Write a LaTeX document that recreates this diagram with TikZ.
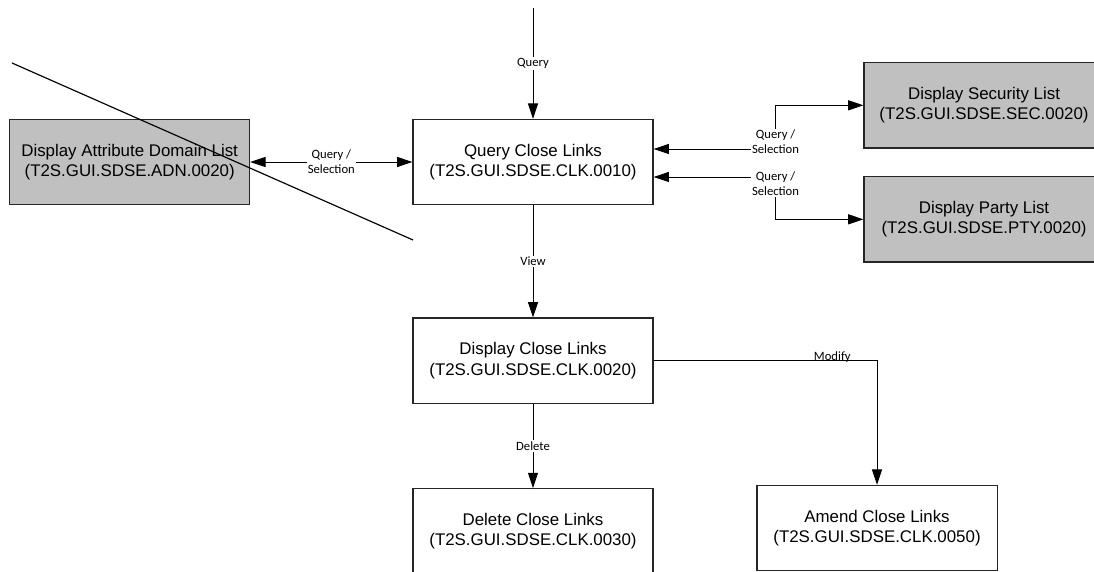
\documentclass[tikz,border=0pt]{standalone}
\usepackage{fontspec}
\setmainfont{Liberation Sans}
\newfontfamily\flowfont{Carlito}
\usepackage{tikz}
\usetikzlibrary{arrows.meta, positioning}
\definecolor{listgray}{RGB}{192,192,192}
\tikzstyle{screen} = [rectangle, minimum width=7.2cm, minimum height=2.56cm, text centered, align=center, draw=black!85, line width=0.9pt, fill=white, font=\fontsize{14.4}{17.5}\selectfont]
\tikzstyle{listscreen} = [screen, fill=listgray]
\tikzstyle{arrow} = [line width=0.8pt, -{Triangle[length=4.6mm,width=3mm]}]
\tikzstyle{twoway} = [line width=0.8pt, {Triangle[length=4.6mm,width=3mm]}-{Triangle[length=4.6mm,width=3mm]}]
\tikzstyle{flow} = [fill=white, inner sep=1pt, align=center, font=\flowfont\fontsize{10.8}{12.8}\selectfont]

\begin{document}
\begin{tikzpicture}[x=0.03cm, y=-0.03cm, node distance=3cm]
\useasboundingbox (0,0) rectangle (1094,572);
\node (qcl) [screen] at (533,162) {Query Close Links\\(T2S.GUI.SDSE.CLK.0010)};
\node (adn) [listscreen, left of=qcl, xshift=-9.1cm] {Display Attribute Domain List\\(T2S.GUI.SDSE.ADN.0020)};
\node (sec) [listscreen, right of=qcl, xshift=10.53cm, yshift=1.7cm] {Display Security List\\(T2S.GUI.SDSE.SEC.0020)};
\node (pty) [listscreen, below of=sec, yshift=-0.42cm] {Display Party List\\(T2S.GUI.SDSE.PTY.0020)};
\node (dcl) [screen, below of=qcl, yshift=-2.96cm] {Display Close Links\\(T2S.GUI.SDSE.CLK.0020)};
\node (del) [screen, below of=dcl, yshift=-2.12cm] {Delete Close Links\\(T2S.GUI.SDSE.CLK.0030)};
\node (amd) [screen, right of=del, xshift=7.32cm, yshift=0.1cm] {Amend Close Links\\(T2S.GUI.SDSE.CLK.0050)};
\coordinate (entry) at (533,8);
\coordinate (crossA) at (12,63);
\coordinate (crossB) at (413,240);

\draw [arrow] (entry) -- node [flow] {Query} (qcl);
\draw [twoway] (adn) -- node [flow] {Query /\\Selection} (qcl);
\draw [twoway] ([yshift=0.39cm]qcl.east) -- ++(3.66cm,0) node [flow, yshift=0.22cm] {Query /\\Selection} |- (sec.west);
\draw [twoway] ([yshift=-0.45cm]qcl.east) -- ++(3.66cm,0) node [flow, yshift=-0.2cm] {Query /\\Selection} |- (pty.west);
\draw [arrow] (qcl) -- node [flow] {View} (dcl);
\draw [arrow] (dcl) -- node [flow] {Delete} (del);
\draw [arrow] (dcl.east) -| node [flow, pos=0.4, anchor=base, fill=none, inner sep=0pt] {Modify} (amd.north);
\draw [line width=1pt] (crossA) -- (crossB);
\end{tikzpicture}
\end{document}
